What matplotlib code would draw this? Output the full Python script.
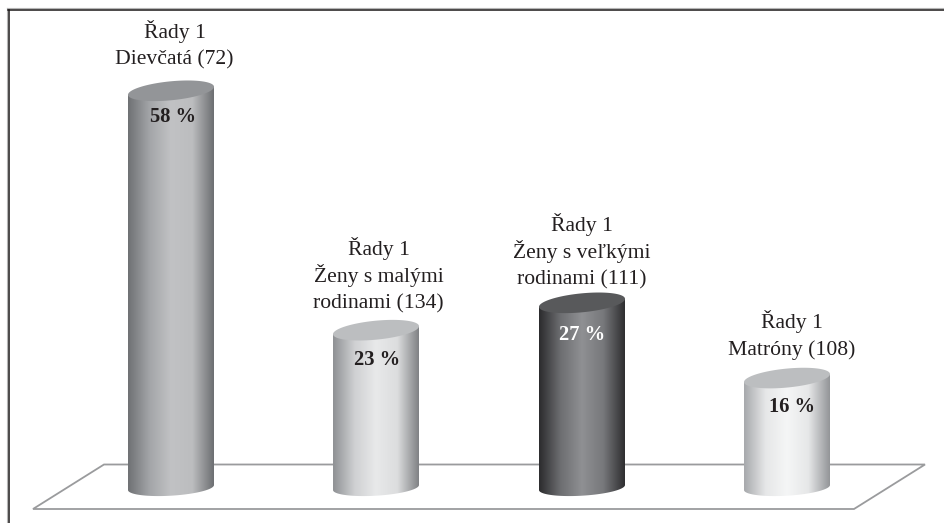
import numpy as np
import matplotlib
matplotlib.use("Agg")
import matplotlib.pyplot as plt
from matplotlib.colors import LinearSegmentedColormap
from matplotlib.patches import Polygon

series_name = "Řady 1"
categories = [["Dievčatá (72)"], ["Ženy s malými", "rodinami (134)"],
              ["Ženy s veľkými", "rodinami (111)"], ["Matróny (108)"]]
percent = [58, 23, 27, 16]

# layout, in pixels of the 945x523 picture
W, H = 945, 523
base_y = 487.5
px_per_pct = 6.84
centers = [171, 376, 582, 787]
half_w = 43
label_x = [174.5, 378.5, 582, 792]
label_base = [38, 255, 231, 328]
line_gap = 26.8
pct_xy = [(173, 122), (377, 365), (582, 340), (792, 412)]
pct_colors = ["#231f20", "#231f20", "#ffffff", "#231f20"]

side_colors = [
    ["#6f7174", "#a3a5a8", "#c1c2c4", "#bcbdbf", "#6d6f72"],
    ["#8f9194", "#cfd0d2", "#e8e9ea", "#dcddde", "#808285"],
    ["#2b2b2d", "#6d6e71", "#8f9093", "#77787b", "#2e2e30"],
    ["#a7a9ac", "#e6e7e8", "#f5f6f6", "#e6e7e8", "#939598"],
]
top_colors = ["#939598", "#bcbec0", "#58595b", "#bcbec0"]

plt.rcParams["font.family"] = ["Liberation Serif", "DejaVu Serif"]

fig = plt.figure(figsize=(W / 100, H / 100), dpi=100)
ax = fig.add_axes([0, 0, 1, 1])
ax.set_xlim(0, W)
ax.set_ylim((base_y - H) / px_per_pct, base_y / px_per_pct)
ax.axis("off")


def val(py):
    # picture y to axis value
    return (base_y - py) / px_per_pct


def ring(cx, v, b, tilt):
    # tilted ellipse, right end a bit higher than the left
    t = np.linspace(0, 2 * np.pi, 120)
    xs = cx + half_w * np.cos(t)
    ys = v + (b * np.sin(t) + tilt * np.cos(t)) / px_per_pct
    return xs, ys


# frame, only top and left
ax.plot([7, 7], [val(8), val(H)], color="#b5b5b5", lw=0.8)
ax.plot([7, W], [val(8), val(8)], color="#b5b5b5", lw=0.8)
ax.plot([8.5, 8.5], [val(9.5), val(H)], color="#1a1718", lw=1.1)
ax.plot([8, W], [val(9.5), val(9.5)], color="#1a1718", lw=1.1)

# floor
floor = Polygon([(33, val(509)), (104, val(464.5)), (925, val(464.5)), (854, val(509))],
                closed=True, fill=False, edgecolor="#9a9b9d", lw=1.3, zorder=1)
ax.add_patch(floor)

for i, v in enumerate(percent):
    cx = centers[i]
    xs, ys = ring(cx, 0, 8.2, 2.5)
    # body outline: front edge of the base, then up to the top
    body_x = np.concatenate([xs[60:], [cx + half_w, cx - half_w]])
    body_y = np.concatenate([ys[60:], [v + 4 / px_per_pct, v - 4 / px_per_pct]])
    body = Polygon(np.column_stack([body_x, body_y]), closed=True,
                   facecolor="none", edgecolor="none")
    ax.add_patch(body)
    cmap = LinearSegmentedColormap.from_list("side", side_colors[i])
    grad = np.linspace(0, 1, 256).reshape(1, -1)
    im = ax.imshow(grad, cmap=cmap, aspect="auto", zorder=2,
                   extent=[cx - half_w, cx + half_w, ys.min() - 1, v + 2])
    im.set_clip_path(body)

    tx, ty = ring(cx, v, 9.5, 4)
    ax.fill(tx, ty, color=top_colors[i], lw=0, zorder=3)

    # label lines one by one on their baselines, so the gap stays even
    for k, line in enumerate([series_name] + categories[i]):
        ax.text(label_x[i], val(label_base[i] + k * line_gap), line, ha="center", va="baseline",
                fontsize=15.6, color="#231f20")
    px, py = pct_xy[i]
    ax.text(px, val(py), str(v) + " %", ha="center", va="baseline", fontsize=14.8,
            fontweight="bold", color=pct_colors[i], zorder=4)

ax.set_xlim(0, W)
ax.set_ylim((base_y - H) / px_per_pct, base_y / px_per_pct)
fig.savefig("out.png", dpi=100, facecolor="white")
